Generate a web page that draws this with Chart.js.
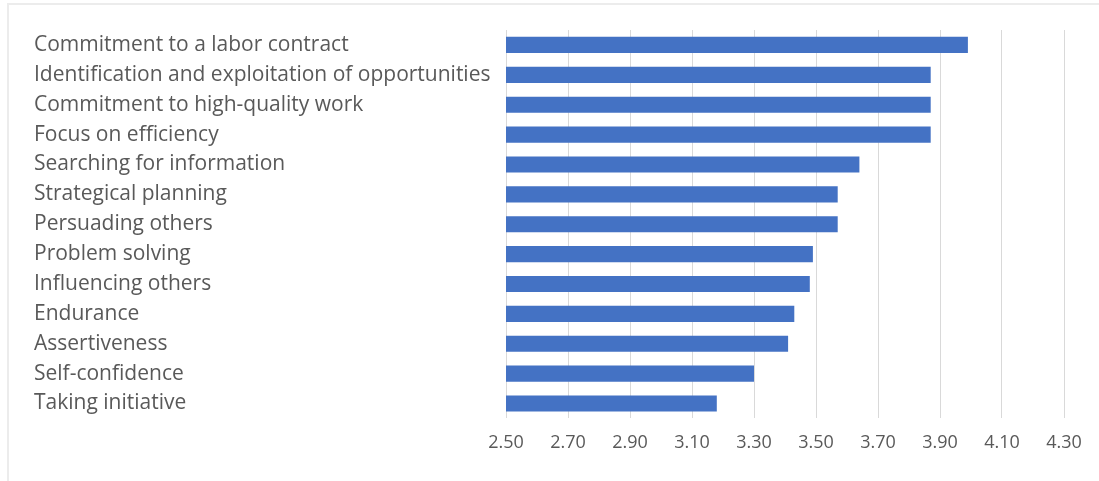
<!DOCTYPE html>
<html>
<head>
<meta charset="utf-8">
<script src="https://cdn.jsdelivr.net/npm/chart.js@4.4.0/dist/chart.umd.min.js"></script>
<style>
  html, body { margin: 0; padding: 0; background: #fff; }
  #wrap { position: relative; width: 1099px; height: 481px; }
  #frame { position: absolute; left: 7px; top: 3px; right: -5px; bottom: -5px; border: 2px solid #ececec; }
  canvas { position: absolute; left: 0; top: 0; }
</style>
</head>
<body>
<div id="wrap">
  <div id="frame"></div>
  <canvas id="competencesChart" width="1099" height="481"></canvas>
</div>
<script>
const categories = [
    'Commitment to a labor contract',
    'Identification and exploitation of opportunities',
    'Commitment to high-quality work',
    'Focus on efficiency',
    'Searching for information',
    'Strategical planning',
    'Persuading others',
    'Problem solving',
    'Influencing others',
    'Endurance',
    'Assertiveness',
    'Self-confidence',
    'Taking initiative'
];
const scores = [3.99, 3.87, 3.87, 3.87, 3.64, 3.57, 3.57, 3.49, 3.48, 3.43, 3.41, 3.30, 3.18];
const axisMin = 2.5;
const axisMax = 4.3;
const axisStep = 0.2;

const textColor = '#595959';
const fontFamily = '"Open Sans", sans-serif';

const ctx = document.getElementById('competencesChart').getContext('2d');
new Chart(ctx, {
    type: 'bar',
    data: {
        labels: categories,
        datasets: [{
            data: scores,
            backgroundColor: '#4472C4',
            categoryPercentage: 1,
            barPercentage: 0.54
        }]
    },
    options: {
        indexAxis: 'y',
        responsive: false,
        animation: false,
        layout: { padding: { left: 34, right: 35, top: 30, bottom: 13 } },
        plugins: {
            legend: { display: false },
            tooltip: { enabled: false }
        },
        scales: {
            x: {
                min: axisMin,
                max: axisMax,
                border: { display: false },
                grid: { color: '#d9d9d9', lineWidth: 1, drawTicks: false },
                ticks: {
                    stepSize: axisStep,
                    padding: 14,
                    color: textColor,
                    font: { family: fontFamily, size: 18 },
                    callback: v => Number(v).toFixed(2)
                }
            },
            y: {
                border: { display: false },
                grid: { display: false, drawTicks: false },
                afterFit: scale => { scale.width = 472; },
                ticks: {
                    crossAlign: 'far',
                    padding: 0,
                    color: textColor,
                    autoSkip: false,
                    font: { family: fontFamily, size: 21 }
                }
            }
        }
    }
});
</script>
</body>
</html>
